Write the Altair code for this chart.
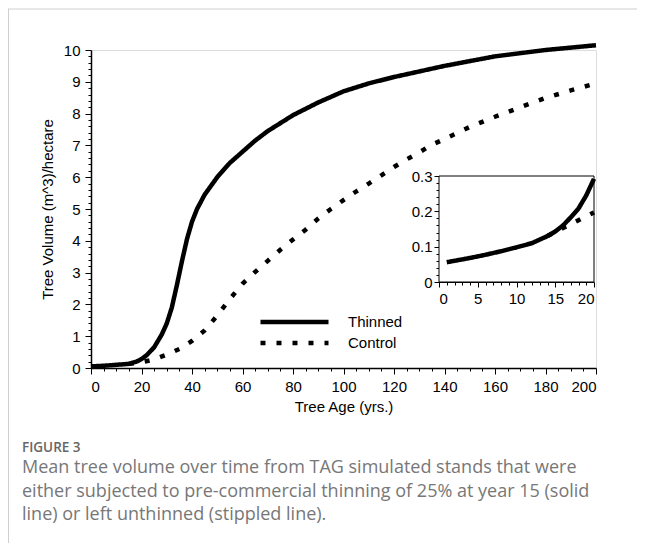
import altair as alt
import pandas as pd

# ---- main chart data ----
thinned_age = [0, 5, 10, 15, 18, 20, 22, 25, 28, 30, 32, 34, 36, 38, 40, 42, 45, 50, 55, 60, 65, 70, 80, 90, 100, 110, 120, 140, 160, 180, 200]
thinned_vol = [0.05, 0.07, 0.1, 0.13, 0.2, 0.28, 0.4, 0.65, 1.05, 1.4, 1.9, 2.6, 3.35, 4.05, 4.6, 5.0, 5.45, 6.0, 6.45, 6.8, 7.15, 7.45, 7.95, 8.35, 8.7, 8.95, 9.15, 9.5, 9.8, 10.0, 10.15]

control_age = [15, 20, 25, 30, 35, 40, 45, 50, 55, 60, 65, 70, 75, 80, 85, 90, 95, 100, 105, 110, 115, 120, 125, 130, 135, 140, 150, 160, 170, 180, 190, 200]
control_vol = [0.13, 0.18, 0.27, 0.42, 0.6, 0.85, 1.18, 1.65, 2.17, 2.65, 3.02, 3.37, 3.72, 4.04, 4.35, 4.7, 5.0, 5.28, 5.55, 5.8, 6.06, 6.32, 6.56, 6.78, 7.02, 7.2, 7.58, 7.9, 8.2, 8.49, 8.73, 8.95]

# ---- inset data (first 20 years) ----
inset_thinned_age = [1, 2, 4, 6, 8, 10, 12, 14, 15, 16, 17, 18, 19, 20]
inset_thinned_vol = [0.056, 0.06, 0.068, 0.077, 0.087, 0.098, 0.11, 0.13, 0.143, 0.16, 0.183, 0.208, 0.245, 0.292]
inset_control_age = [14, 16, 18, 20]
inset_control_vol = [0.13, 0.153, 0.175, 0.197]

series_names = ["Thinned", "Control"]
x_ticks = list(range(0, 201, 5))
y_ticks = [round(i * 0.2, 1) for i in range(0, 51)]
ix_ticks = list(range(0, 21))
iy_ticks = [round(i * 0.02, 2) for i in range(0, 16)]

main_df = pd.DataFrame(
    {"age": thinned_age + control_age,
     "vol": thinned_vol + control_vol,
     "series": [series_names[0]] * len(thinned_age) + [series_names[1]] * len(control_age)}
)
inset_df = pd.DataFrame(
    {"age": inset_thinned_age + inset_control_age,
     "vol": inset_thinned_vol + inset_control_vol,
     "series": [series_names[0]] * len(inset_thinned_age) + [series_names[1]] * len(inset_control_age)}
)

FONT = "Liberation Sans"
FS = 15
W, H = 505, 318
dash_scale = alt.Scale(domain=series_names, range=[[1, 0], [5, 11]])

main_x_axis = alt.Axis(
    values=x_ticks, title="Tree Age (yrs.)", grid=False,
    labelExpr="datum.value % 20 === 0 ? datum.label : ''",
    tickSize={"condition": {"test": "datum.value % 20 === 0", "value": 6}, "value": 3},
    labelOverlap=False, labelPadding=5, titlePadding=5,
    labelFontSize=FS, titleFontSize=FS, labelFont=FONT, titleFont=FONT,
    titleFontWeight="normal", labelColor="black", titleColor="black",
    domainColor="black", tickColor="black", domainWidth=1.5, tickWidth=1,
)
main_y_axis = alt.Axis(
    values=y_ticks, title="Tree Volume (m^3)/hectare", grid=False,
    labelExpr="abs(datum.value - round(datum.value)) < 0.01 ? format(datum.value, 'd') : ''",
    tickSize={"condition": {"test": "abs(datum.value - round(datum.value)) < 0.01", "value": 6}, "value": 3},
    labelOverlap=False, labelPadding=5, titlePadding=8,
    labelFontSize=FS, titleFontSize=FS, labelFont=FONT, titleFont=FONT,
    titleFontWeight="normal", labelColor="black", titleColor="black",
    domainColor="black", tickColor="black", domainWidth=1.5, tickWidth=1,
)

main_lines = alt.Chart(main_df).mark_line(
    color="black", strokeWidth=4.5, strokeCap="butt"
).encode(
    x=alt.X("age:Q", scale=alt.Scale(domain=[0, 200], nice=False), axis=main_x_axis),
    y=alt.Y("vol:Q", scale=alt.Scale(domain=[0, 10], nice=False), axis=main_y_axis),
    strokeDash=alt.StrokeDash(
        "series:N", scale=dash_scale, sort=series_names,
        legend=alt.Legend(
            title=None, orient="none", legendX=191.5, legendY=260, padding=0,
            symbolType="M-3.58,0H3.58", symbolSize=361, symbolStrokeWidth=4.5,
            symbolStrokeColor="black", labelFontSize=FS, labelFont=FONT,
            labelColor="black", labelOffset=41.5, rowPadding=0,
        ),
    ),
    detail="series:N",
)

frame_top = alt.Chart(pd.DataFrame({"k": [0]})).mark_rule(color="#cfcfcf", strokeWidth=1).encode(
    x=alt.value(-83), x2=alt.value(W + 41), y=alt.value(-41)
)
frame_left = alt.Chart(pd.DataFrame({"k": [0]})).mark_rule(color="#cfcfcf", strokeWidth=1).encode(
    x=alt.value(-82.5), y=alt.value(-41), y2=alt.value(H + 175)
)

main_layer = alt.layer(main_lines, frame_top, frame_left)

# ---- inset ----
IX0, IX1 = 348, 503
IY0, IY1 = 232, 126
inset_x_axis = alt.Axis(
    values=ix_ticks, title=None, grid=False, orient="bottom", offset=IY0 - H,
    labelExpr="datum.value % 5 === 0 ? datum.label : ''",
    tickSize={"condition": {"test": "datum.value % 5 === 0", "value": 5}, "value": 3},
    labelOverlap=False, labelPadding=4, labelFontSize=FS, labelFont=FONT,
    labelColor="black", domainColor="black", tickColor="black", domainWidth=1, tickWidth=1,
)
inset_y_axis = alt.Axis(
    values=iy_ticks, title=None, grid=False, orient="left", offset=-IX0,
    labelExpr="abs(datum.value*10 - round(datum.value*10)) < 0.01 ? (datum.value === 0 ? '0' : format(datum.value, '.1f')) : ''",
    tickSize={"condition": {"test": "abs(datum.value*10 - round(datum.value*10)) < 0.01", "value": 5}, "value": 3},
    labelOverlap=False, labelPadding=2, labelFontSize=FS, labelFont=FONT,
    labelColor="black", domainColor="black", tickColor="black", domainWidth=1, tickWidth=1,
)
ix_scale = alt.Scale(domain=[0, 20], range=[IX0, IX1], nice=False)
iy_scale = alt.Scale(domain=[0, 0.3], range=[IY0, IY1], nice=False)

inset_box = alt.Chart(pd.DataFrame({"x0": [0], "x1": [20], "y0": [0], "y1": [0.3]})).mark_rect(
    fill="white", stroke="black", strokeWidth=1
).encode(
    x=alt.X("x0:Q", scale=ix_scale, axis=inset_x_axis),
    x2="x1:Q",
    y=alt.Y("y0:Q", scale=iy_scale, axis=inset_y_axis),
    y2="y1:Q",
)
inset_lines = alt.Chart(inset_df).mark_line(
    color="black", strokeWidth=4.5, strokeCap="butt"
).encode(
    x=alt.X("age:Q", scale=ix_scale, axis=inset_x_axis),
    y=alt.Y("vol:Q", scale=iy_scale, axis=inset_y_axis),
    strokeDash=alt.StrokeDash("series:N", scale=dash_scale, sort=series_names, legend=None),
    detail="series:N",
)
inset_layer = alt.layer(inset_box, inset_lines)

caption = alt.TitleParams(
    text="FIGURE 3",
    subtitle=[
        "Mean tree volume over time from TAG simulated stands that were",
        "either subjected to pre-commercial thinning of 25% at year 15 (solid",
        "line) or left unthinned (stippled line).",
    ],
    orient="bottom", anchor="start", frame="group", dx=-69, offset=-103,
    font="Open Sans", fontSize=13.5, fontWeight=600, color="#666666",
    subtitleFont="Open Sans", subtitleFontSize=18, subtitleColor="#777777",
    subtitleLineHeight=23.5, subtitlePadding=5,
)

chart = alt.layer(main_layer, inset_layer).resolve_scale(
    x="independent", y="independent", strokeDash="independent"
).resolve_axis(x="independent", y="independent").properties(
    width=W, height=H, title=caption,
    autosize=alt.AutoSizeParams(type="none"),
    padding={"left": 83, "top": 42, "right": 41, "bottom": 175},
).configure_view(stroke=None).configure(background="white")

chart.save("out.html", embed_options={"renderer": "svg", "actions": False})
